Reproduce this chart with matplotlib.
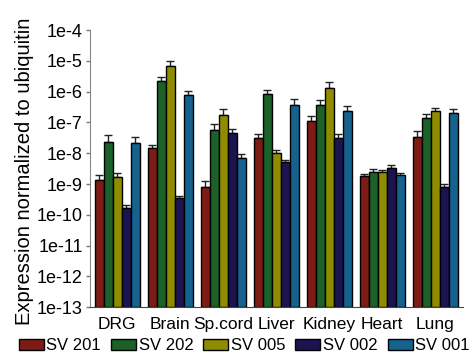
import matplotlib.pyplot as plt
import numpy as np

plt.rcParams['font.family'] = ['Liberation Sans', 'DejaVu Sans']

tissues = ['DRG', 'Brain', 'Sp.cord', 'Liver', 'Kidney', 'Heart', 'Lung']
series = ['SV 201', 'SV 202', 'SV 005', 'SV 002', 'SV 001']
colors = ['#7d1c16', '#1b6128', '#8f8c00', '#1c1450', '#15628f']

# mean expression per tissue, one list per splice variant
sv201 = [1.4e-9, 1.5e-8, 8e-10, 3.2e-8, 1.1e-7, 1.8e-9, 3.4e-8]
sv202 = [2.3e-8, 2.2e-6, 5.6e-8, 8.3e-7, 3.6e-7, 2.5e-9, 1.35e-7]
sv005 = [1.7e-9, 6.8e-6, 1.7e-7, 1e-8, 1.3e-6, 2.5e-9, 2.3e-7]
sv002 = [1.7e-10, 3.5e-10, 4.5e-8, 5.2e-9, 3.2e-8, 3.3e-9, 8e-10]
sv001 = [2.1e-8, 7.8e-7, 7e-9, 3.6e-7, 2.4e-7, 2e-9, 2e-7]

# upper error (SEM)
err201 = [0.5e-9, 0.4e-8, 4.5e-10, 1.1e-8, 5e-8, 0.3e-9, 1.9e-8]
err202 = [1.6e-8, 0.8e-6, 3.2e-8, 2.9e-7, 1.6e-7, 0.6e-9, 6e-8]
err005 = [0.6e-9, 3e-6, 1e-7, 2.5e-9, 7.4e-7, 0.4e-9, 6e-8]
err002 = [0.4e-10, 0.6e-10, 1.6e-8, 0.8e-9, 1.1e-8, 0.8e-9, 2e-10]
err001 = [1.2e-8, 2.7e-7, 2.5e-9, 2e-7, 1.1e-7, 0.3e-9, 7e-8]

ytick_vals = [1e-13, 1e-12, 1e-11, 1e-10, 1e-9, 1e-8, 1e-7, 1e-6, 1e-5, 1e-4]
ytick_labels = ['1e-13', '1e-12', '1e-11', '1e-10', '1e-9', '1e-8', '1e-7', '1e-6', '1e-5', '1e-4']

values = [sv201, sv202, sv005, sv002, sv001]
errors = [err201, err202, err005, err002, err001]

fig = plt.figure(figsize=(4.75, 3.58), dpi=100)
ax = fig.add_axes([0.189, 0.142, 0.786, 0.774])

x = np.arange(len(tissues))
w = 0.17
for i in range(len(series)):
    pos = x + (i - 2) * w
    ax.bar(pos, values[i], w, bottom=1e-13, color=colors[i], edgecolor='black',
           linewidth=1.0, label=series[i], zorder=2)
    ax.errorbar(pos, values[i], yerr=[np.zeros(len(tissues)), errors[i]], fmt='none',
                ecolor='#222222', elinewidth=1.0, capsize=3, capthick=1.0, zorder=1)

ax.set_yscale('log')
ax.set_ylim(1e-13, 1e-4)
ax.set_xlim(-0.52, 6.53)
ax.yaxis.set_major_locator(plt.FixedLocator(ytick_vals))
ax.yaxis.set_minor_locator(plt.NullLocator())
ax.set_yticklabels(ytick_labels, fontsize=13)
ax.set_xticks(x)
ax.set_xticklabels(tissues, fontsize=12.5)
ax.tick_params(axis='x', length=0, pad=7)
ax.tick_params(axis='y', length=3, width=1, color='#777777', pad=2)

ax.spines['top'].set_visible(False)
ax.spines['right'].set_visible(False)
ax.spines['left'].set_color('#888888')
ax.spines['bottom'].set_color('#444444')

ax.set_ylabel('Expression normalized to ubiquitin', fontsize=14.5)
ax.yaxis.set_label_coords(-0.15, 0.49)

# legend in one row along the bottom strip
fig.legend(loc='center left', bbox_to_anchor=(0.04, 0.034), bbox_transform=fig.transFigure,
           ncol=5, frameon=False, fontsize=12, handlelength=1.5, handleheight=0.6,
           handletextpad=0.15, columnspacing=0.6, borderpad=0, borderaxespad=0)

fig.savefig('out.png', dpi=100)
